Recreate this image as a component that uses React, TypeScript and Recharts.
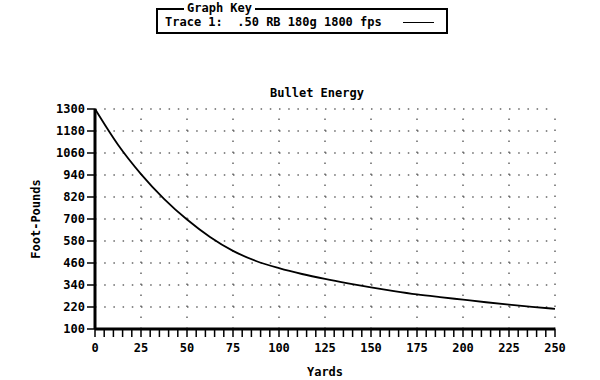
import React from 'react';
import { LineChart, Line, XAxis, YAxis, CartesianGrid, ReferenceLine } from 'recharts';

const yards = [0, 12.5, 25, 37.5, 50, 62.5, 75, 87.5, 100, 112.5, 125, 137.5, 150, 162.5, 175, 187.5, 200, 212.5, 225, 237.5, 250];
const energy = [1300, 1105, 945, 810, 697, 602, 526, 471, 432, 400, 373, 349, 327, 307, 289, 274, 260, 246, 233, 221, 210];
const yTicks = [100, 220, 340, 460, 580, 700, 820, 940, 1060, 1180, 1300];
const xTicks = Array.from({ length: 51 }, (_, i) => i * 5);
const majorX = [25, 50, 75, 100, 125, 150, 175, 200, 225, 250];
const title = 'Bullet Energy';
const keyTitle = 'Graph Key';
const traceLabel = 'Trace 1:  .50 RB 180g 1800 fps';

const data = yards.map((y, i) => ({ yards: y, energy: energy[i] }));

const FONT = '"DejaVu Sans Mono", monospace';

const YLabel = (props: any) => {
  const vb = props.viewBox || {};
  const cx = 36;
  const cy = (vb.y || 0) + (vb.height || 0) / 2;
  return (
    <text x={cx} y={cy} transform={`rotate(-90, ${cx}, ${cy})`} textAnchor="middle" dominantBaseline="central"
      style={{ fontFamily: FONT, fontWeight: 'bold', fontSize: 12, fill: '#000' }}>
      Foot-Pounds
    </text>
  );
};

export default function App() {
  return (
    <div style={{ position: 'absolute', left: 0, top: 0, width: 600, height: 380, background: '#fff', fontFamily: FONT }}>
      <div style={{ position: 'absolute', left: 156, top: 8, width: 292, height: 26, border: '2px solid #000', boxSizing: 'border-box' }}>
        <span style={{ position: 'absolute', left: 26, top: -9, background: '#fff', padding: '0 3px', fontWeight: 'bold', fontSize: 12, lineHeight: '14px', whiteSpace: 'pre' }}>{keyTitle}</span>
        <span style={{ position: 'absolute', left: 7, top: 5, fontWeight: 'bold', fontSize: 12, lineHeight: '14px', whiteSpace: 'pre' }}>{traceLabel}</span>
        <div style={{ position: 'absolute', left: 245, top: 12, width: 31, height: 0, borderTop: '1.5px solid #000' }} />
      </div>
      <div style={{ position: 'absolute', left: 217, width: 200, top: 86, textAlign: 'center', fontWeight: 'bold', fontSize: 12, lineHeight: '14px' }}>{title}</div>
      <div style={{ position: 'absolute', left: 0, top: 0 }}>
        <LineChart width={600} height={380} data={data} margin={{ top: 109, right: 45, bottom: 0, left: 0 }}>
          <CartesianGrid vertical={false} stroke="#666" strokeWidth={1.5} strokeDasharray="1.5 7.7" />
          {majorX.map((x) => (
            <ReferenceLine key={x} x={x} stroke="#666" strokeWidth={1.5} strokeDasharray="1.5 9.5" ifOverflow="visible" />
          ))}
          <XAxis
            dataKey="yards"
            type="number"
            domain={[0, 250]}
            ticks={xTicks}
            interval={0}
            height={51}
            tickSize={8}
            tickMargin={6}
            tickFormatter={(v: number) => (v % 25 === 0 ? String(v) : '')}
            axisLine={{ stroke: '#000', strokeWidth: 3 }}
            tickLine={{ stroke: '#000', strokeWidth: 1.5 }}
            tick={{ fill: '#000', fontFamily: FONT, fontWeight: 'bold', fontSize: 12 }}
            label={{ value: 'Yards', position: 'insideBottom', offset: 4, style: { fill: '#000', fontFamily: FONT, fontWeight: 'bold', fontSize: 12 } }}
          />
          <YAxis
            type="number"
            domain={[100, 1300]}
            ticks={yTicks}
            interval={0}
            width={95}
            tickSize={8}
            tickMargin={2}
            axisLine={{ stroke: '#000', strokeWidth: 3 }}
            tickLine={{ stroke: '#000', strokeWidth: 1.5 }}
            tick={{ fill: '#000', fontFamily: FONT, fontWeight: 'bold', fontSize: 12 }}
            label={<YLabel />}
          />
          <Line type="monotone" dataKey="energy" stroke="#000" strokeWidth={1.8} dot={false} isAnimationActive={false} />
        </LineChart>
      </div>
    </div>
  );
}
